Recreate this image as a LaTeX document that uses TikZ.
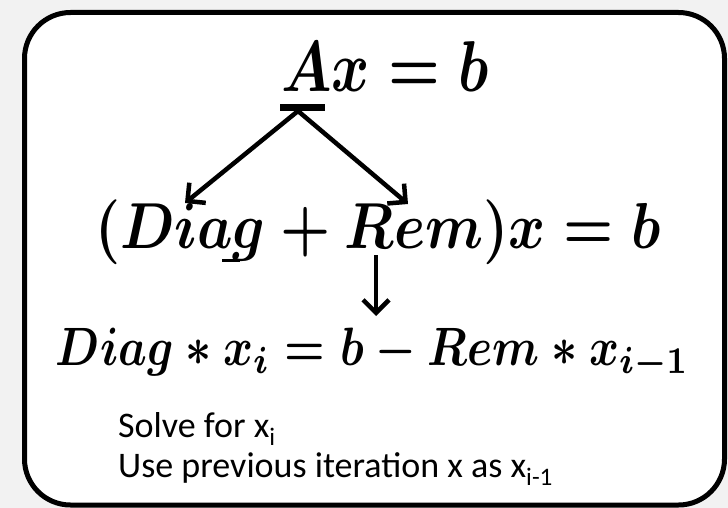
\documentclass[tikz,border=0pt]{standalone}
\usepackage{fontspec}
\setmainfont{Carlito}
\usetikzlibrary{arrows.meta}
\definecolor{bgcol}{HTML}{F2F2F2}
\AtBeginDocument{\boldmath}
\begin{document}
\begin{tikzpicture}[x=1pt,y=-1pt,
  conn/.style={line width=4.5pt,-{Straight Barb[length=13pt,width=26pt]}},
  eqn/.style={inner sep=0pt,anchor=base west,transform shape},
  txt/.style={inner sep=0pt,anchor=base west,font=\fontsize{36}{40}\selectfont}]
\fill[bgcol] (0,0) rectangle (728,508);
\useasboundingbox (0,0) rectangle (728,508);
\draw[line width=5pt,fill=white,rounded corners=46pt] (24.5,12.5) rectangle (724.5,505);
% equations
\node[eqn,xscale=5.8,yscale=7.2] (e1) at (280,92) {$Ax = b$};
\node[eqn,xscale=5.62,yscale=6.5] (e2) at (94,248) {$(Diag + Rem)x = b$};
\node[eqn,xscale=4.55,yscale=5.4] (e3) at (55,365) {$Diag \ast x_i = b - Rem \ast x_{i-1}$};
% bar under A and apex
\fill (280,104) rectangle (325,111);
\coordinate (apex) at (298,111);
\coordinate (l2a) at (185,203);
\coordinate (l2b) at (408,204);
\draw[conn] (apex) -- (l2a);
\draw[conn] (apex) -- (l2b);
\fill (222,259) rectangle (240,262);
\coordinate (v1) at (376,255);
\coordinate (v2) at (376,316);
\draw[conn] (v1) -- (v2);
% text
\node[txt] (t1) at (118,437) {Solve for x\textsubscript{i}};
\node[txt] (t2) at (118,477) {Use previous iteration x as x\textsubscript{i-1}};
\end{tikzpicture}
\end{document}
